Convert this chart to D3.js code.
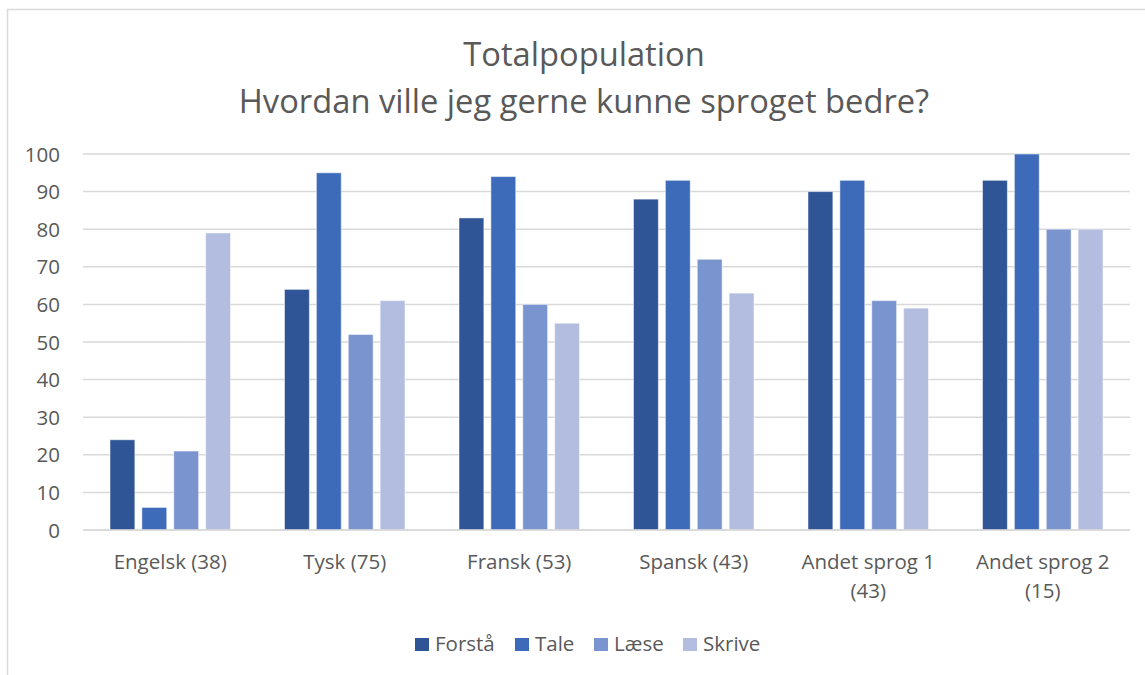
<!DOCTYPE html>
<html>
<head>
<meta charset="utf-8">
<script src="https://cdn.jsdelivr.net/npm/d3@7"></script>
<style>
  html, body { margin: 0; padding: 0; background: #fff; }
  svg { display: block; }
  text { font-family: "Open Sans", Lato, sans-serif; fill: #595959; }
</style>
</head>
<body>
<svg id="chart" width="1145" height="675"></svg>
<script>
// Languages (with respondent counts) and the four skill series
const categories = [["Engelsk (38)"], ["Tysk (75)"], ["Fransk (53)"], ["Spansk (43)"], ["Andet sprog 1", "(43)"], ["Andet sprog 2", "(15)"]];
const seriesNames = ["Forstå", "Tale", "Læse", "Skrive"];
const forstaa = [24, 64, 83, 88, 90, 93];
const tale    = [6, 95, 94, 93, 93, 100];
const laese   = [21, 52, 60, 72, 61, 80];
const skrive  = [79, 61, 55, 63, 59, 80];
const yTicks  = [0, 10, 20, 30, 40, 50, 60, 70, 80, 90, 100];
const titleLines = ["Totalpopulation", "Hvordan ville jeg gerne kunne sproget bedre?"];

const seriesValues = [forstaa, tale, laese, skrive];
const colors = ["#2F5597", "#3D6BBA", "#7A94D0", "#B2BDE0"];
const font = "'Open Sans', Lato, sans-serif";

const svg = d3.select("#chart");
const W = 1145, H = 675;
const plot = { left: 83, right: 1130, top: 154, bottom: 530 };

// Outer chart frame
svg.append("rect")
  .attr("x", 7.5).attr("y", 9.5)
  .attr("width", W + 10).attr("height", H + 10)
  .attr("fill", "#fff").attr("stroke", "#d9d9d9").attr("stroke-width", 1.5);

// Title
svg.selectAll("text.title").data(titleLines).join("text")
  .attr("class", "title")
  .attr("x", 584).attr("y", (d, i) => 66 + i * 47)
  .attr("text-anchor", "middle")
  .style("font-size", "32.7px")
  .text(d => d);

const labels = categories.map(d => d.join(" "));
const x0 = d3.scaleBand().domain(labels).range([plot.left, plot.right]).paddingInner(0).paddingOuter(0);
const x1 = d3.scaleBand().domain(seriesNames).range([27, x0.bandwidth() - 27]).paddingInner(0.22).paddingOuter(0);
const y = d3.scaleLinear().domain([0, 100]).range([plot.bottom, plot.top]);

// Gridlines
svg.append("g")
  .selectAll("line").data(yTicks).join("line")
  .attr("x1", plot.left).attr("x2", plot.right)
  .attr("y1", d => y(d)).attr("y2", d => y(d))
  .attr("stroke", "#d9d9d9").attr("stroke-width", 1.5);

// Y axis labels
const yAxis = d3.axisLeft(y).tickValues(yTicks).tickSize(0).tickPadding(0);
const gy = svg.append("g").attr("transform", "translate(60,0)").call(yAxis);
gy.select(".domain").remove();
gy.selectAll("text").style("font-size", "20.5px").style("font-family", font).attr("fill", "#595959").attr("dy", "0.35em");

// Bars
const groups = svg.append("g").selectAll("g").data(labels).join("g")
  .attr("transform", d => `translate(${x0(d)},0)`);
groups.selectAll("rect")
  .data((d, i) => seriesNames.map((s, k) => ({ s, k, v: seriesValues[k][i] })))
  .join("rect")
  .attr("x", d => x1(d.s))
  .attr("width", x1.bandwidth())
  .attr("y", d => y(d.v))
  .attr("height", d => y(0) - y(d.v))
  .attr("fill", d => colors[d.k])
  .attr("stroke", "#fff").attr("stroke-opacity", 0.5).attr("stroke-width", 1);

// Baseline
svg.append("line")
  .attr("x1", plot.left).attr("x2", plot.right)
  .attr("y1", y(0)).attr("y2", y(0))
  .attr("stroke", "#d9d9d9").attr("stroke-width", 1.5);

// Category labels
const cat = svg.append("g").selectAll("text").data(categories).join("text")
  .attr("x", (d, i) => x0(labels[i]) + x0.bandwidth() / 2)
  .attr("y", 569)
  .attr("text-anchor", "middle")
  .style("font-size", "20.5px");
cat.selectAll("tspan").data(d => d).join("tspan")
  .attr("x", function () { return this.parentNode.getAttribute("x"); })
  .attr("dy", (d, i) => i === 0 ? 0 : 29)
  .text(d => d);

// Legend
const legendX = [415, 515, 594, 683];
const lg = svg.append("g").selectAll("g").data(seriesNames).join("g")
  .attr("transform", (d, i) => `translate(${legendX[i]},638)`);
lg.append("rect").attr("width", 14).attr("height", 13).attr("fill", (d, i) => colors[i]);
lg.append("text").attr("x", 20).attr("y", 13)
  .style("font-size", "20.5px").text(d => d);
</script>
</body>
</html>
